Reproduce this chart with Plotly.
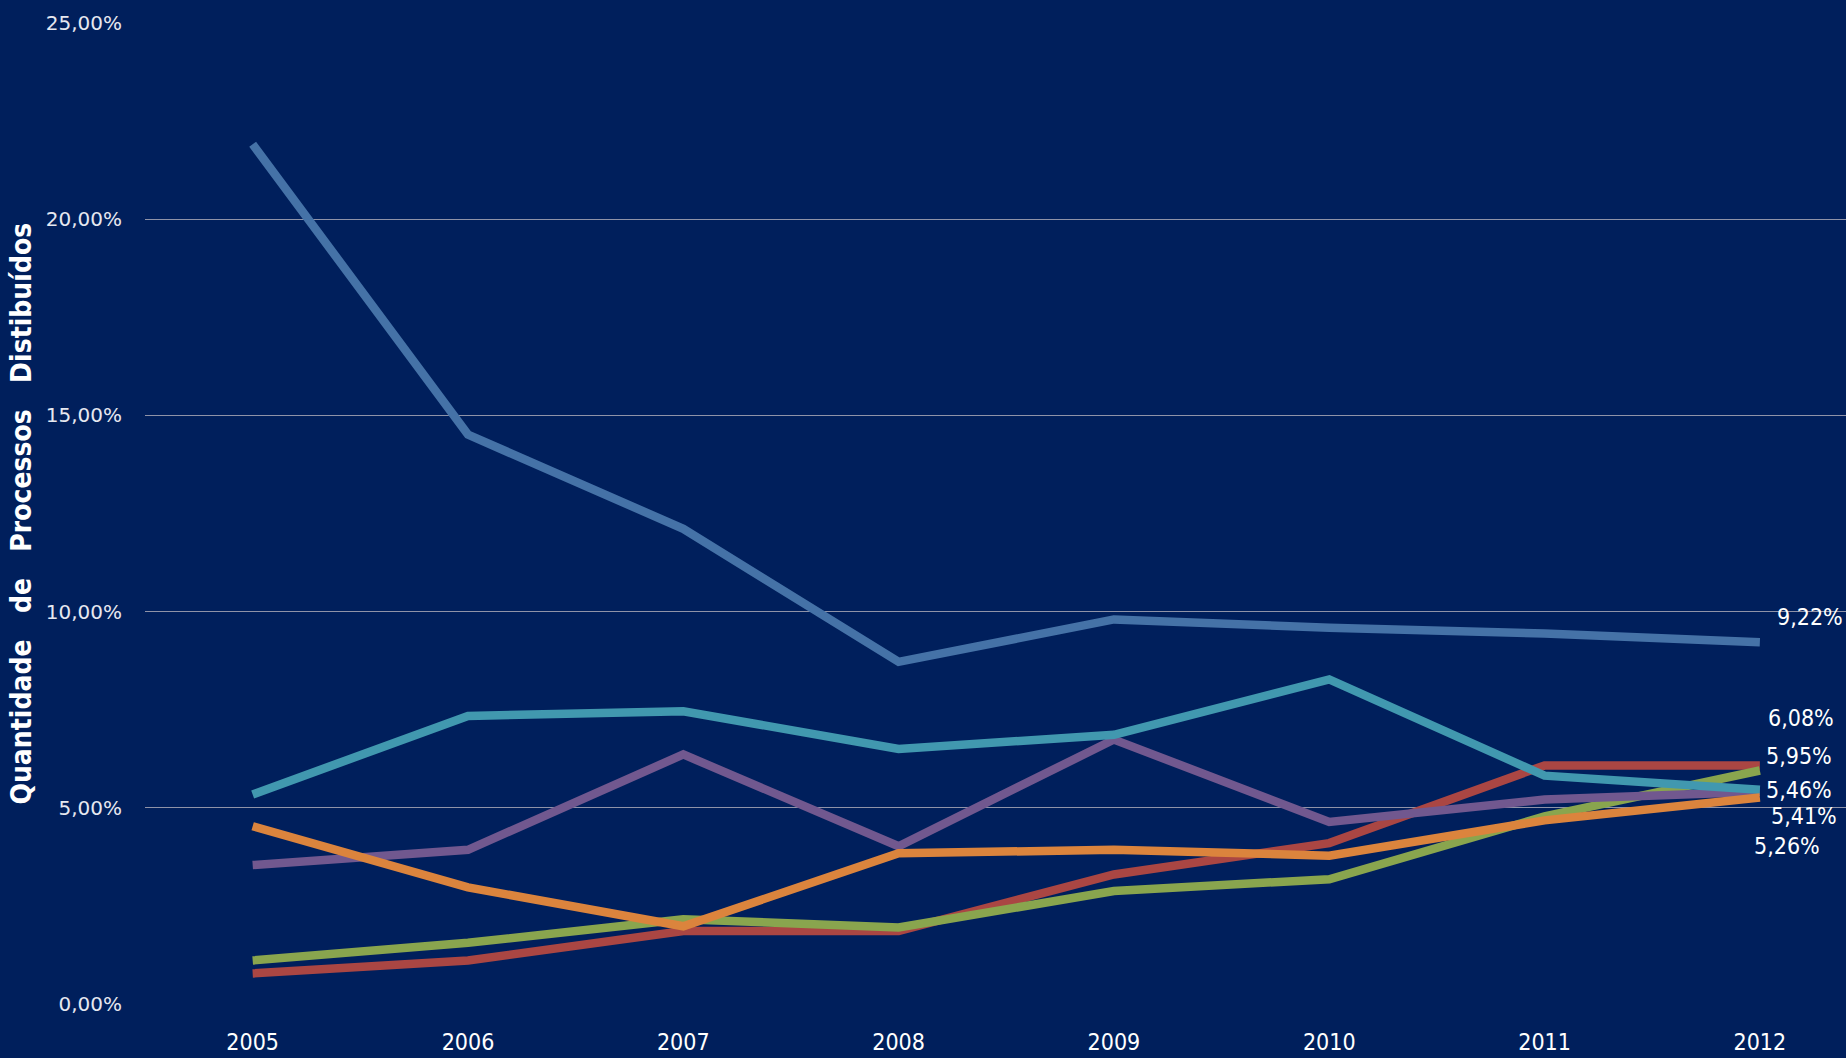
import plotly.graph_objects as go

years = ["2005", "2006", "2007", "2008", "2009", "2010", "2011", "2012"]

serie_azul = [21.91, 14.51, 12.11, 8.72, 9.80, 9.59, 9.44, 9.22]
serie_vermelha = [0.78, 1.11, 1.86, 1.86, 3.30, 4.10, 6.08, 6.08]
serie_verde = [1.11, 1.56, 2.16, 1.95, 2.88, 3.18, 4.78, 5.95]
serie_roxa = [3.54, 3.93, 6.36, 4.02, 6.74, 4.64, 5.21, 5.41]
serie_turquesa = [5.34, 7.34, 7.46, 6.50, 6.86, 8.27, 5.82, 5.46]
serie_laranja = [4.53, 2.97, 1.98, 3.84, 3.93, 3.78, 4.68, 5.26]

y_ticks = [0, 5, 10, 15, 20, 25]
y_tick_labels = ["0,00%", "5,00%", "10,00%", "15,00%", "20,00%", "25,00%"]
y_title = "Quantidade\u00a0\u00a0\u00a0de\u00a0\u00a0\u00a0Processos\u00a0\u00a0\u00a0Distibuídos"

series = [
    (serie_azul, "#4572A7", (50, 25)),
    (serie_vermelha, "#AA4643", (41, 47)),
    (serie_verde, "#89A54E", (39, 15)),
    (serie_roxa, "#71588F", (44, -24)),
    (serie_turquesa, "#4198AF", (39, 0)),
    (serie_laranja, "#DB843D", (27, -48)),
]

NARROW = "Liberation Sans Narrow, DejaVu Sans Condensed, Roboto Condensed, Arial Narrow, sans-serif"

fig = go.Figure()
annotations = []
for vals, color, (dx, dy) in series:
    fig.add_trace(go.Scatter(
        x=years, y=vals, mode="lines",
        line=dict(color=color, width=8.5),
        showlegend=False, hoverinfo="skip",
    ))
    last = vals[-1]
    annotations.append(dict(
        x=len(years) - 1, y=last, xref="x", yref="y",
        text=f"{last:.2f}%".replace(".", ","),
        showarrow=False, xshift=dx, yshift=dy,
        xanchor="center", yanchor="middle",
        font=dict(family=NARROW, size=23, color="white"),
    ))

annotations.append(dict(
    x=0, y=0.5, xref="paper", yref="paper",
    text=y_title, textangle=-90, showarrow=False,
    xanchor="center", yanchor="middle", xshift=-124,
    font=dict(family=NARROW, size=28, color="white", weight="bold"),
))

bg = "#001F5C"
fig.update_layout(
    width=1846, height=1058,
    paper_bgcolor=bg, plot_bgcolor=bg,
    margin=dict(l=145, r=0, t=23, b=54),
    annotations=annotations,
    xaxis=dict(
        type="category", range=[-0.5, 7.4],
        showgrid=False, zeroline=False, showline=False,
        tickfont=dict(family=NARROW, size=23, color="white"),
        ticks="", ticklabelstandoff=22,
    ),
    yaxis=dict(
        range=[0, 25], tickvals=y_ticks, ticktext=y_tick_labels,
        showgrid=True, gridcolor="#8F93A8", gridwidth=1,
        zeroline=False, showline=False, ticks="",
        tickfont=dict(family="DejaVu Sans, sans-serif", size=20, color="#E6E8F0"),
        ticklabelstandoff=22,
    ),
)

fig.write_html(
    "out.html",
    config={"displayModeBar": False},
    post_script="document.body.style.margin='0';document.body.style.overflow='hidden';",
)
